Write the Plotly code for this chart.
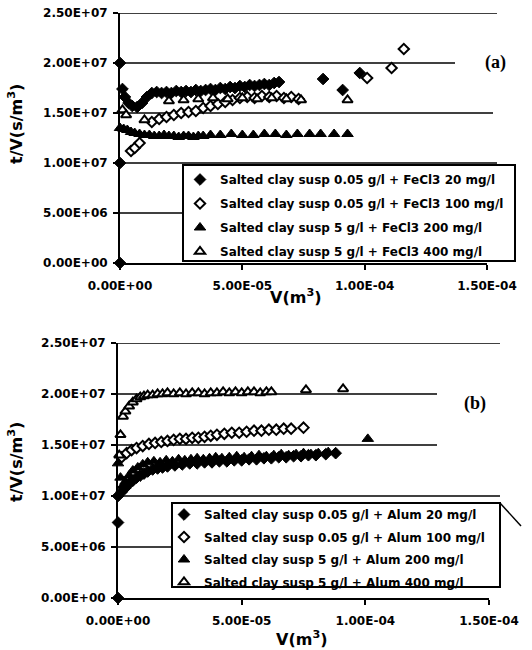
import plotly.graph_objects as go

# ---------------- data: panel (a) FeCl3 ----------------
a_fe20_x = [0, 0, 0, 1.0e-6, 2.0e-6, 3.5e-6, 5.0e-6, 7.0e-6, 9.0e-6, 1.1e-5, 1.3e-5,
            1.5e-5, 1.7e-5, 1.9e-5, 2.1e-5, 2.3e-5, 2.5e-5, 2.7e-5, 2.9e-5, 3.1e-5, 3.3e-5,
            3.5e-5, 3.7e-5, 3.9e-5, 4.1e-5, 4.3e-5, 4.5e-5, 4.7e-5, 4.9e-5, 5.1e-5, 5.3e-5,
            5.5e-5, 5.7e-5, 5.9e-5, 6.1e-5, 6.3e-5, 6.5e-5, 8.3e-5, 9.1e-5, 9.8e-5]
a_fe20_y = [0, 1.0e7, 2.0e7, 1.74e7, 1.66e7, 1.60e7, 1.57e7, 1.56e7, 1.60e7, 1.66e7, 1.70e7,
            1.71e7, 1.70e7, 1.71e7, 1.70e7, 1.72e7, 1.71e7, 1.72e7, 1.71e7, 1.73e7, 1.72e7,
            1.73e7, 1.74e7, 1.73e7, 1.75e7, 1.74e7, 1.76e7, 1.75e7, 1.77e7, 1.76e7, 1.78e7,
            1.77e7, 1.78e7, 1.79e7, 1.78e7, 1.80e7, 1.81e7, 1.84e7, 1.73e7, 1.90e7]

a_fe100_x = [4.5e-6, 6.0e-6, 8.0e-6, 1.3e-5, 1.6e-5, 1.9e-5, 2.2e-5, 2.5e-5, 2.8e-5, 3.1e-5,
             3.4e-5, 3.7e-5, 4.0e-5, 4.3e-5, 4.6e-5, 4.9e-5, 5.2e-5, 5.5e-5, 5.8e-5, 6.1e-5,
             6.4e-5, 6.7e-5, 7.0e-5, 7.3e-5, 1.01e-4, 1.11e-4, 1.16e-4]
a_fe100_y = [1.12e7, 1.15e7, 1.20e7, 1.41e7, 1.44e7, 1.46e7, 1.48e7, 1.50e7, 1.51e7, 1.52e7,
             1.55e7, 1.57e7, 1.59e7, 1.61e7, 1.63e7, 1.65e7, 1.66e7, 1.65e7, 1.67e7, 1.66e7,
             1.67e7, 1.65e7, 1.66e7, 1.64e7, 1.85e7, 1.95e7, 2.14e7]

a_fe200_x = [0, 1.5e-6, 3.0e-6, 4.5e-6, 6.0e-6, 8.0e-6, 1.0e-5, 1.2e-5, 1.4e-5, 1.6e-5,
             1.8e-5, 2.0e-5, 2.2e-5, 2.4e-5, 2.6e-5, 2.8e-5, 3.0e-5, 3.2e-5, 3.4e-5, 3.7e-5,
             4.1e-5, 4.55e-5, 5.0e-5, 5.45e-5, 5.9e-5, 6.35e-5, 6.8e-5, 7.25e-5, 7.75e-5, 8.2e-5,
             8.75e-5, 9.3e-5]
a_fe200_y = [1.35e7, 1.34e7, 1.33e7, 1.31e7, 1.30e7, 1.29e7, 1.28e7, 1.28e7, 1.27e7, 1.27e7,
             1.28e7, 1.27e7, 1.27e7, 1.26e7, 1.27e7, 1.27e7, 1.26e7, 1.27e7, 1.27e7, 1.28e7,
             1.28e7, 1.29e7, 1.28e7, 1.28e7, 1.29e7, 1.29e7, 1.28e7, 1.29e7, 1.29e7, 1.29e7,
             1.29e7, 1.29e7]

a_fe400_x = [1.0e-6, 2.5e-6, 1.0e-5, 2.0e-5, 2.6e-5, 3.2e-5, 3.8e-5, 4.4e-5, 5.0e-5, 5.6e-5,
             6.2e-5, 6.8e-5, 7.4e-5, 9.3e-5]
a_fe400_y = [1.53e7, 1.48e7, 1.43e7, 1.62e7, 1.63e7, 1.64e7, 1.65e7, 1.64e7, 1.65e7, 1.64e7,
             1.65e7, 1.64e7, 1.63e7, 1.63e7]

# ---------------- data: panel (b) Alum ----------------
b_al20_x = [0, 0, 0, 1.5e-6, 3.0e-6, 4.5e-6, 6.0e-6, 7.5e-6, 9.0e-6, 1.05e-5, 1.2e-5,
            1.4e-5, 1.6e-5, 1.8e-5, 2.0e-5, 2.3e-5, 2.6e-5, 2.9e-5, 3.2e-5, 3.5e-5, 3.8e-5,
            4.1e-5, 4.4e-5, 4.7e-5, 5.0e-5, 5.3e-5, 5.6e-5, 5.9e-5, 6.2e-5, 6.5e-5, 6.8e-5,
            7.1e-5, 7.4e-5, 7.7e-5, 8.0e-5, 8.4e-5, 8.8e-5]
b_al20_y = [0, 7.4e6, 1.0e7, 1.04e7, 1.08e7, 1.12e7, 1.15e7, 1.18e7, 1.20e7, 1.22e7, 1.24e7,
            1.26e7, 1.27e7, 1.28e7, 1.29e7, 1.30e7, 1.31e7, 1.32e7, 1.32e7, 1.33e7, 1.33e7,
            1.34e7, 1.34e7, 1.35e7, 1.35e7, 1.36e7, 1.36e7, 1.37e7, 1.37e7, 1.38e7, 1.38e7,
            1.39e7, 1.39e7, 1.40e7, 1.40e7, 1.41e7, 1.42e7]

b_al100_x = [1.5e-6, 3.5e-6, 5.5e-6, 7.5e-6, 1.0e-5, 1.25e-5, 1.5e-5, 1.75e-5, 2.0e-5, 2.25e-5,
             2.5e-5, 2.75e-5, 3.0e-5, 3.25e-5, 3.5e-5, 3.75e-5, 4.0e-5, 4.3e-5, 4.6e-5, 4.9e-5,
             5.2e-5, 5.5e-5, 5.8e-5, 6.1e-5, 6.4e-5, 6.7e-5, 7.0e-5, 7.5e-5]
b_al100_y = [1.38e7, 1.42e7, 1.45e7, 1.47e7, 1.49e7, 1.51e7, 1.52e7, 1.53e7, 1.54e7, 1.55e7,
             1.56e7, 1.56e7, 1.57e7, 1.57e7, 1.58e7, 1.59e7, 1.60e7, 1.61e7, 1.62e7, 1.62e7,
             1.63e7, 1.64e7, 1.64e7, 1.65e7, 1.65e7, 1.66e7, 1.66e7, 1.67e7]

b_al200_x = [0, 1.0e-6, 2.0e-6, 3.0e-6, 4.5e-6, 6.0e-6, 8.0e-6, 1.0e-5, 1.2e-5, 1.45e-5,
             1.7e-5, 1.95e-5, 2.2e-5, 2.45e-5, 2.7e-5, 2.95e-5, 3.2e-5, 3.45e-5, 3.7e-5, 3.95e-5,
             4.2e-5, 4.5e-5, 4.8e-5, 5.1e-5, 5.4e-5, 5.7e-5, 6.0e-5, 6.3e-5, 6.6e-5, 6.9e-5,
             7.2e-5, 7.5e-5, 7.8e-5, 8.1e-5, 8.5e-5, 1.01e-4]
b_al200_y = [1.32e7, 1.18e7, 1.10e7, 1.14e7, 1.20e7, 1.25e7, 1.28e7, 1.31e7, 1.33e7, 1.34e7,
             1.33e7, 1.35e7, 1.34e7, 1.36e7, 1.35e7, 1.36e7, 1.37e7, 1.36e7, 1.37e7, 1.38e7,
             1.37e7, 1.38e7, 1.39e7, 1.38e7, 1.39e7, 1.40e7, 1.39e7, 1.40e7, 1.41e7, 1.40e7,
             1.41e7, 1.42e7, 1.41e7, 1.42e7, 1.43e7, 1.56e7]

b_al400_x = [0.5e-6, 1.0e-6, 2.0e-6, 3.0e-6, 4.5e-6, 6.0e-6, 7.5e-6, 9.0e-6, 1.05e-5, 1.2e-5,
             1.4e-5, 1.6e-5, 1.8e-5, 2.0e-5, 2.25e-5, 2.5e-5, 2.75e-5, 3.0e-5, 3.25e-5, 3.5e-5,
             3.75e-5, 4.0e-5, 4.25e-5, 4.5e-5, 4.75e-5, 5.0e-5, 5.25e-5, 5.5e-5, 5.75e-5, 6.0e-5,
             6.2e-5, 7.6e-5, 9.1e-5]
b_al400_y = [1.40e7, 1.60e7, 1.78e7, 1.83e7, 1.88e7, 1.92e7, 1.95e7, 1.97e7, 1.98e7, 1.99e7,
             1.99e7, 2.00e7, 2.00e7, 2.01e7, 2.00e7, 2.01e7, 2.00e7, 2.01e7, 2.01e7, 2.00e7,
             2.01e7, 2.01e7, 2.02e7, 2.01e7, 2.02e7, 2.01e7, 2.02e7, 2.02e7, 2.01e7, 2.02e7,
             2.02e7, 2.04e7, 2.05e7]

names_a = ["Salted clay susp 0.05 g/l + FeCl3 20 mg/l",
           "Salted clay susp 0.05 g/l + FeCl3 100 mg/l",
           "Salted clay susp 5 g/l + FeCl3 200 mg/l",
           "Salted clay susp 5 g/l + FeCl3 400 mg/l"]
names_b = ["Salted clay susp 0.05 g/l + Alum 20 mg/l",
           "Salted clay susp 0.05 g/l + Alum 100 mg/l",
           "Salted clay susp 5 g/l + Alum 200 mg/l",
           "Salted clay susp 5 g/l + Alum 400 mg/l"]

x_tickvals = [0, 5e-5, 1e-4, 1.5e-4]
x_ticktext = ["0.00E+00", "5.00E-05", "1.00E-04", "1.50E-04"]
y_tickvals = [0, 5e6, 1e7, 1.5e7, 2e7, 2.5e7]
y_ticktext = ["0.00E+00", "5.00E+06", "1.00E+07", "1.50E+07", "2.00E+07", "2.50E+07"]

# ---------------- styling ----------------
W, H = 532, 650
def px_x(p):
    return p / W
def px_y(p):
    return 1 - p / H

FONT = "DejaVu Sans"
styles = [
    dict(symbol="diamond", size=9, color="black", line=dict(color="black", width=1)),
    dict(symbol="diamond", size=8, color="white", line=dict(color="black", width=2)),
    dict(symbol="triangle-up", size=10, color="black", line=dict(color="black", width=1)),
    dict(symbol="triangle-up", size=9, color="white", line=dict(color="black", width=2)),
]

fig = go.Figure()
series_a = [(a_fe20_x, a_fe20_y), (a_fe100_x, a_fe100_y), (a_fe200_x, a_fe200_y), (a_fe400_x, a_fe400_y)]
series_b = [(b_al20_x, b_al20_y), (b_al100_x, b_al100_y), (b_al200_x, b_al200_y), (b_al400_x, b_al400_y)]
for i, (xs, ys) in enumerate(series_a):
    fig.add_trace(go.Scatter(x=xs, y=ys, mode="markers", name=names_a[i], marker=styles[i],
                             xaxis="x", yaxis="y", legend="legend", legendgroup="a%d" % i,
                             cliponaxis=False))
for i, (xs, ys) in enumerate(series_b):
    fig.add_trace(go.Scatter(x=xs, y=ys, mode="markers", name=names_b[i], marker=styles[i],
                             xaxis="x2", yaxis="y2", legend="legend2", legendgroup="b%d" % i,
                             cliponaxis=False))

tickfont = dict(family=FONT, size=12, color="black", weight="bold")
def xax(domain, anchor):
    return dict(domain=domain, anchor=anchor, range=[0, 1.5e-4], tickmode="array",
                tickvals=x_tickvals, ticktext=x_ticktext, ticks="outside", ticklen=5,
                tickwidth=1.5, tickcolor="black", showline=True, linecolor="black",
                linewidth=2, showgrid=False, zeroline=False, tickfont=tickfont,
                ticklabelstandoff=6, automargin=False)
def yax(domain, anchor):
    return dict(domain=domain, anchor=anchor, range=[0, 2.5e7], tickmode="array",
                tickvals=y_tickvals, ticktext=y_ticktext, ticks="outside", ticklen=5,
                tickwidth=1.5, tickcolor="black", showline=True, linecolor="black",
                linewidth=2, showgrid=False, zeroline=False, tickfont=tickfont,
                ticklabelstandoff=3, automargin=False)

legfont = dict(family=FONT, size=12, color="black", weight="bold")
fig.update_layout(
    width=W, height=H, margin=dict(l=0, r=0, t=0, b=0, autoexpand=False),
    paper_bgcolor="white", plot_bgcolor="rgba(0,0,0,0)",
    xaxis=xax([px_x(120), px_x(487)], "y"),
    yaxis=yax([px_y(263), px_y(13)], "x"),
    xaxis2=xax([px_x(118), px_x(489)], "y2"),
    yaxis2=yax([px_y(598), px_y(343)], "x2"),
    legend=dict(x=px_x(180), y=px_y(165), xanchor="left", yanchor="top",
                bgcolor="rgba(0,0,0,0)", borderwidth=0, font=legfont,
                traceorder="grouped", tracegroupgap=5, itemwidth=30),
    legend2=dict(x=px_x(164), y=px_y(500), xanchor="left", yanchor="top",
                 bgcolor="rgba(0,0,0,0)", borderwidth=0, font=legfont,
                 traceorder="grouped", tracegroupgap=3.5, itemwidth=30),
    showlegend=True,
)

shapes = []
# gridlines (a)
for val, x1 in [(5e6, 497), (1e7, 497), (1.5e7, 493), (2e7, 455), (2.5e7, 497)]:
    shapes.append(dict(type="line", xref="paper", yref="y", x0=px_x(120), x1=px_x(x1),
                       y0=val, y1=val, line=dict(color="black", width=1.5), layer="below"))
# gridlines (b)
for val, x1 in [(5e6, 500), (1e7, 500), (1.5e7, 437), (2e7, 437), (2.5e7, 500)]:
    shapes.append(dict(type="line", xref="paper", yref="y2", x0=px_x(118), x1=px_x(x1),
                       y0=val, y1=val, line=dict(color="black", width=1.5), layer="below"))
# legend boxes
shapes.append(dict(type="rect", xref="paper", yref="paper", x0=px_x(183), x1=px_x(515),
                   y0=px_y(261), y1=px_y(165), line=dict(color="black", width=2),
                   fillcolor="white", layer="above"))
shapes.append(dict(type="rect", xref="paper", yref="paper", x0=px_x(172), x1=px_x(500),
                   y0=px_y(587), y1=px_y(503), line=dict(color="black", width=2),
                   fillcolor="white", layer="above"))
shapes.append(dict(type="line", xref="paper", yref="paper", x0=px_x(500), x1=px_x(521),
                   y0=px_y(503), y1=px_y(526), line=dict(color="black", width=1.5), layer="above"))
fig.update_layout(shapes=shapes)

titlefont = dict(family=FONT, size=16, color="black", weight="bold")
ann = [
    dict(text="t/V(s/m<sup>3</sup>)", x=px_x(15), y=px_y(124), textangle=-90, font=titlefont),
    dict(text="t/V(s/m<sup>3</sup>)", x=px_x(15), y=px_y(462), textangle=-90, font=titlefont),
    dict(text="V(m<sup>3</sup>)", x=px_x(295), y=px_y(296), font=titlefont),
    dict(text="V(m<sup>3</sup>)", x=px_x(301), y=px_y(638), font=titlefont),
    dict(text="(a)", x=px_x(495), y=px_y(62),
         font=dict(family="Liberation Serif", size=18, color="black", weight="bold")),
    dict(text="(b)", x=px_x(475), y=px_y(403),
         font=dict(family="Liberation Serif", size=18, color="black", weight="bold")),
]
for a in ann:
    a.update(xref="paper", yref="paper", showarrow=False, xanchor="center", yanchor="middle")
fig.update_layout(annotations=ann)

fig.write_html("out.html", config={"displayModeBar": False},
               post_script="document.body.style.margin='0';document.body.style.padding='0';")
